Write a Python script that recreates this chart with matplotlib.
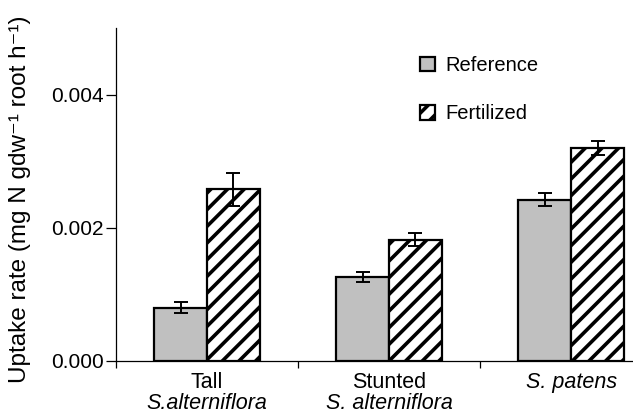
import matplotlib.pyplot as plt
import numpy as np

plt.rcParams['font.family'] = ['Liberation Sans', 'DejaVu Sans']
plt.rcParams['hatch.linewidth'] = 2.6

groups = ["Tall", "Stunted", "S. patens"]
species = ["S.alterniflora", "S. alterniflora", ""]
reference = [0.00080, 0.00126, 0.00242]
reference_err = [0.000083, 0.000075, 0.00010]
fertilized = [0.00258, 0.00182, 0.00320]
fertilized_err = [0.00025, 0.00010, 0.000107]

fig = plt.figure(figsize=(6.33, 4.16), dpi=100)
ax = fig.add_axes([116 / 633, 1 - 361 / 416, 1 - 116 / 633, (361 - 28) / 416])

x = np.arange(len(groups))
w = 0.29
ekw = dict(elinewidth=1.4, capthick=1.4, ecolor="black")
ax.bar(x - w / 2, reference, w, yerr=reference_err, capsize=5,
       color="#c0c0c0", edgecolor="black", linewidth=1.6,
       error_kw=ekw, label="Reference", zorder=2)
ax.bar(x + w / 2, fertilized, w, yerr=fertilized_err, capsize=5,
       color="white", edgecolor="black", linewidth=1.6, hatch="//",
       error_kw=ekw, label="Fertilized", zorder=2)

ax.set_xlim(-0.5, 2.34)
ax.set_ylim(0, 0.005)
ax.set_yticks([0.0, 0.002, 0.004])
ax.set_yticklabels(["0.000", "0.002", "0.004"])
ax.set_xticks([-0.5, 0.5, 1.5])
ax.set_xticklabels([])
ax.tick_params(axis="y", length=7.5, width=0.9, labelsize=15, pad=1.5)
ax.tick_params(axis="x", length=5, width=0.9)
for s in ["top", "right"]:
    ax.spines[s].set_visible(False)
for s in ["left", "bottom"]:
    ax.spines[s].set_linewidth(0.9)

# two-line category labels, species names in italics
trans = ax.get_xaxis_transform()
for i, g in enumerate(groups):
    if species[i]:
        ax.text(i, -0.081, g, transform=trans, ha="center", va="baseline", fontsize=15.5)
        ax.text(i, -0.143, species[i], transform=trans, ha="center", va="baseline",
                fontsize=15.5, style="italic")
    else:
        ax.text(i, -0.081, g, transform=trans, ha="center", va="baseline",
                fontsize=15.5, style="italic")

ax.set_ylabel("Uptake rate (mg N gdw\u207b\u00b9 root h\u207b\u00b9)", fontsize=17.5)
ax.yaxis.set_label_coords(-0.165, 0.485)

ax.legend(loc="upper left", bbox_to_anchor=(0.552, 0.97), frameon=False,
          fontsize=14.5, handlelength=0.75, handleheight=0.75,
          labelspacing=1.45, handletextpad=0.55)

fig.savefig("out.png", dpi=100)
